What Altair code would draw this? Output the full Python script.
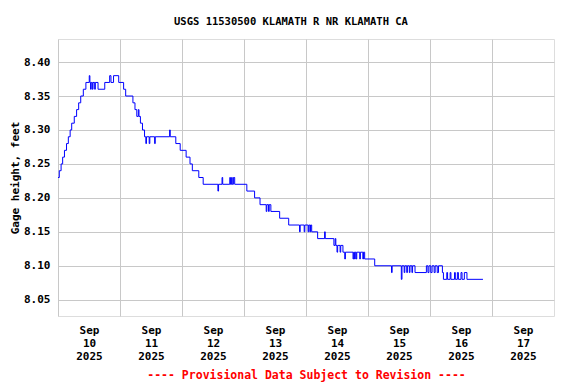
import altair as alt
import pandas as pd

# hours since 2025-09-10 00:00 (local) where the gage height changes, and the new value
hours = [0.0, 0.5, 1.2, 1.8, 2.5, 3.3, 4.0, 4.7, 5.3, 6.3, 7.2, 8.0, 8.8, 9.8, 10.8,
         12.1, 12.35, 12.6, 12.85, 13.3, 13.55, 14.2, 14.45, 15.5, 18.1, 20.0, 20.5, 21.5,
         23.5, 25.4, 26.2, 29.0, 29.8, 30.5, 31.1, 31.35, 31.9, 32.7, 33.5,
         34.0, 34.25, 35.3, 35.55, 37.4, 37.65, 43.2, 43.45, 45.6, 47.3, 49.6, 51.1, 52.0,
         54.5, 56.2, 61.9, 62.15, 63.5, 63.75, 66.5, 66.75, 67.2, 67.45, 67.9, 68.4,
         73.1, 76.1, 78.2, 80.6, 80.85, 81.5, 81.75, 82.4, 85.8, 89.3,
         93.5, 93.75, 95.3, 95.55, 96.8, 97.05, 97.5, 97.75, 98.2, 100.5, 103.2, 103.45,
         106.8, 107.3, 107.55, 108.0, 108.25, 109.2, 109.45, 110.3, 111.0, 111.25,
         114.2, 114.45, 114.8, 115.05, 115.4, 115.65, 116.8, 117.05, 118.0, 118.25, 118.7,
         122.6, 129.1, 129.35, 132.9, 133.15, 134.0, 134.25, 135.0, 135.25, 136.0, 136.25,
         137.0, 137.25, 138.2, 142.6, 143.2, 143.6, 144.3, 144.8, 145.6, 146.0, 146.8, 147.3,
         148.8, 149.2, 150.5, 150.8, 151.8, 152.1, 153.5, 153.8, 154.6, 155.0, 156.0, 156.4,
         157.3, 158.3, 164.5]
values = [8.23, 8.24, 8.25, 8.26, 8.27, 8.28, 8.29, 8.30, 8.31, 8.32, 8.33, 8.34, 8.35, 8.36, 8.37,
          8.38, 8.37, 8.36, 8.37, 8.36, 8.37, 8.36, 8.37, 8.36, 8.37, 8.38, 8.37, 8.38,
          8.37, 8.36, 8.35, 8.34, 8.33, 8.32, 8.33, 8.32, 8.31, 8.30, 8.29,
          8.28, 8.29, 8.28, 8.29, 8.28, 8.29, 8.30, 8.29, 8.28, 8.27, 8.26, 8.25, 8.24,
          8.23, 8.22, 8.21, 8.22, 8.23, 8.22, 8.23, 8.22, 8.23, 8.22, 8.23, 8.22,
          8.21, 8.20, 8.19, 8.18, 8.19, 8.18, 8.19, 8.18, 8.17, 8.16,
          8.15, 8.16, 8.15, 8.16, 8.15, 8.16, 8.15, 8.16, 8.15, 8.14, 8.15, 8.14,
          8.13, 8.14, 8.13, 8.12, 8.13, 8.12, 8.13, 8.12, 8.11, 8.12,
          8.11, 8.12, 8.11, 8.12, 8.11, 8.12, 8.11, 8.12, 8.11, 8.12, 8.11,
          8.10, 8.09, 8.10, 8.08, 8.10, 8.09, 8.10, 8.09, 8.10, 8.09, 8.10,
          8.09, 8.10, 8.09, 8.10, 8.09, 8.10, 8.09, 8.10, 8.09, 8.10, 8.09, 8.10,
          8.09, 8.08, 8.09, 8.08, 8.09, 8.08, 8.09, 8.08, 8.09, 8.08, 8.09, 8.08,
          8.09, 8.08, 8.08]

y_ticks = [8.05, 8.10, 8.15, 8.20, 8.25, 8.30, 8.35, 8.40]
day_ticks = [10, 11, 12, 13, 14, 15, 16, 17]

title_text = "USGS 11530500 KLAMATH R NR KLAMATH CA"
footer_text = "---- Provisional Data Subject to Revision ----"
y_title = "Gage height, feet"

base = pd.Timestamp("2025-09-10 00:00")
df = pd.DataFrame({
    "time": [(base + pd.to_timedelta(h, unit="h")).strftime("%Y-%m-%dT%H:%M:%S") for h in hours],
    "value": values,
})

FONT = "DejaVu Sans Mono"

x_axis = alt.Axis(
    values=[alt.DateTime(year=2025, month=9, date=d, hours=0) for d in day_ticks],
    labelExpr="[timeFormat(datum.value, '%b'), timeFormat(datum.value, '%d'), timeFormat(datum.value, '%Y')]",
    labelOffset=31,
    labelAlign="center",
    labelBaseline="top",
    labelPadding=8,
    labelLineHeight=13,
    labelFont=FONT, labelFontSize=11, labelFontWeight="bold", labelColor="black",
    ticks=False, domain=False, grid=True, gridColor="#c8c8c8", gridWidth=1,
    title=footer_text, titleFont=FONT, titleFontSize=11.5, titleFontWeight="bold",
    titleColor="#ff0000", titlePadding=8,
    labelFlush=False, labelOverlap=False,
)

y_axis = alt.Axis(
    values=y_ticks, format=".2f",
    labelFont=FONT, labelFontSize=11, labelFontWeight="bold", labelColor="black",
    labelPadding=8, ticks=False, domain=False, grid=True, gridColor="#c8c8c8", gridWidth=1,
    title=y_title, titleFont=FONT, titleFontSize=11, titleFontWeight="bold",
    titleColor="black", titlePadding=3,
)

chart = alt.Chart(df).mark_line(
    interpolate="step-after", color="#0000ff", strokeWidth=1
).encode(
    x=alt.X("time:T", axis=x_axis,
            scale=alt.Scale(domain=[alt.DateTime(year=2025, month=9, date=10, hours=0),
                                    alt.DateTime(year=2025, month=9, date=18, hours=0)],
                            nice=False)),
    y=alt.Y("value:Q", axis=y_axis,
            scale=alt.Scale(domain=[8.026, 8.434], nice=False, zero=False)),
).properties(
    width=496, height=277,
    title=alt.TitleParams(title_text, font=FONT, fontSize=10.5, fontWeight="bold",
                          color="black", anchor="middle", dx=-15, offset=12),
    autosize=alt.AutoSizeParams(type="none"),
    padding={"left": 50, "top": 31, "right": 14, "bottom": 68},
).configure_view(
    stroke="black", strokeWidth=1
).configure(background="white")

chart.save("out.html", embed_options={"renderer": "svg", "actions": False})
